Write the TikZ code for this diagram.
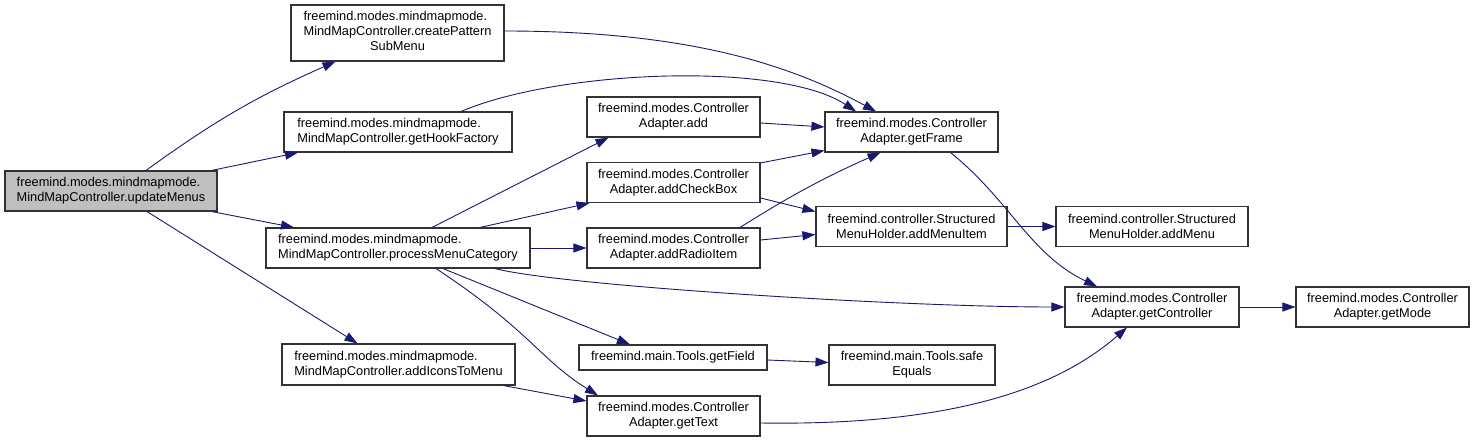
\documentclass[tikz,border=0pt]{standalone}
\usepackage{fontspec}
\setmainfont{Liberation Sans}
\usetikzlibrary{arrows.meta,calc}
\definecolor{edgeblue}{HTML}{191970}
\definecolor{nodegray}{HTML}{BFBFBF}
\definecolor{nodeborder}{HTML}{333333}
\tikzset{
  box/.style={draw=nodeborder, line width=1.1pt, fill=white, rectangle, inner sep=0pt,
    align=center, font=\fontsize{12.8}{15}\selectfont},
  lbox/.style={box, align=left},
  conn/.style={draw=edgeblue, line width=0.9pt, -{Triangle[length=13pt,width=9pt]}},
}
\begin{document}
\begin{tikzpicture}[x=1pt,y=-1pt]
\useasboundingbox (0,0) rectangle (1475,441);
\fill[white] (0,0) rectangle (1475,441);

% column 1
\node[lbox, fill=nodegray, minimum width=212pt, minimum height=40pt] (um) at (111,191)
  {freemind.modes.mindmapmode.\\MindMapController.updateMenus};

% column 2
\node[box, minimum width=213pt, minimum height=56pt] (cp) at (397.5,33)
  {\begin{tabular}{@{}l@{}}freemind.modes.mindmapmode.\\MindMapController.createPattern\\\multicolumn{1}{@{}c@{}}{SubMenu}\end{tabular}};
\node[lbox, minimum width=228pt, minimum height=40pt] (hf) at (398,132)
  {freemind.modes.mindmapmode.\\MindMapController.getHookFactory};
\node[lbox, minimum width=264pt, minimum height=40pt] (pmc) at (398,248)
  {freemind.modes.mindmapmode.\\MindMapController.processMenuCategory};
\node[lbox, minimum width=233pt, minimum height=41pt] (ai) at (398.5,364.5)
  {freemind.modes.mindmapmode.\\MindMapController.addIconsToMenu};

% column 3
\node[box, minimum width=173pt, minimum height=40pt] (add) at (673.5,117)
  {freemind.modes.Controller\\Adapter.add};
\node[box, minimum width=173pt, minimum height=40pt] (acb) at (673.5,182.5)
  {freemind.modes.Controller\\Adapter.addCheckBox};
\node[box, minimum width=173pt, minimum height=40pt] (ari) at (673.5,248)
  {freemind.modes.Controller\\Adapter.addRadioItem};
\node[box, minimum width=188pt, minimum height=25pt] (gf) at (673,357.5)
  {freemind.main.Tools.getField};
\node[box, minimum width=173pt, minimum height=40pt] (gt) at (673.5,416)
  {freemind.modes.Controller\\Adapter.getText};

% column 4
\node[box, minimum width=173pt, minimum height=40pt] (gfr) at (911.5,132)
  {freemind.modes.Controller\\Adapter.getFrame};
\node[box, minimum width=191pt, minimum height=40pt] (ami) at (911.5,226.5)
  {freemind.controller.Structured\\MenuHolder.addMenuItem};
\node[box, minimum width=166pt, minimum height=40pt] (se) at (912,365)
  {freemind.main.Tools.safe\\Equals};

% column 5
\node[box, minimum width=192pt, minimum height=40pt] (am) at (1152,226.5)
  {freemind.controller.Structured\\MenuHolder.addMenu};
\node[box, minimum width=174pt, minimum height=40pt] (gc) at (1152,307)
  {freemind.modes.Controller\\Adapter.getController};

% column 6
\node[box, minimum width=173pt, minimum height=40pt] (gm) at (1382.5,307)
  {freemind.modes.Controller\\Adapter.getMode};

% connectors
\draw[conn] ($(um.north)+(35,0)$) to[bend left=6] ($(cp.south)+(-62,0)$);
\draw[conn] ($(um.north east)+(-6,0)$) -- ($(hf.south)+(-100,0)$);
\draw[conn] ($(um.south east)+(-6,0)$) -- ($(pmc.north)+(-104,0)$);
\draw[conn] ($(um.south)+(36,0)$) -- ($(ai.north)+(-41,0)$);

\draw[conn] ($(cp.east)+(0,-2)$) .. controls +(195,0) and +(-78,-42) .. ($(gfr.north)+(-35.5,0)$);
\draw[conn] ($(hf.north)+(63,0)$) .. controls +(99,-42) and +(-76,-50) .. ($(gfr.north)+(-55.5,0)$);

\draw[conn] ($(pmc.north)+(34,0)$) -- ($(add.south)+(-65,0)$);
\draw[conn] ($(pmc.north)+(82,0)$) -- ($(acb.south west)+(3,0)$);
\draw[conn] (pmc.east) -- (ari.west);
\draw[conn] ($(pmc.south)+(97,0)$) .. controls +(65,17) and +(-165,0) .. (gc.west);
\draw[conn] ($(pmc.south)+(45,0)$) -- ($(gf.north)+(-43,0)$);
\draw[conn] ($(pmc.south)+(38,0)$) .. controls +(94,62) and +(-58,-36) .. ($(gt.north)+(-75.5,0)$);

\draw[conn] ($(add.east)+(0,6)$) -- ($(gfr.west)+(0,-5)$);
\draw[conn] ($(acb.north east)+(0,1)$) -- ($(gfr.south west)+(0,-2)$);
\draw[conn] ($(acb.east)+(0,15.5)$) -- ($(ami.west)+(0,-15)$);
\draw[conn] ($(ari.north)+(66.5,0)$) to[bend left=4] ($(gfr.south)+(-31,0)$);
\draw[conn] ($(ari.east)+(0,-8)$) -- ($(ami.west)+(0,8)$);

\draw[conn] ($(gfr.south)+(39,0)$) .. controls +(59.5,48) and +(-67,-32) .. ($(gc.north)+(-55,0)$);
\draw[conn] (ami.east) -- (am.west);
\draw[conn] (gc.east) -- (gm.west);
\draw[conn] ($(gf.east)+(0,2.5)$) -- ($(se.west)+(0,-2.5)$);
\draw[conn] ($(ai.south)+(105,0)$) -- ($(gt.west)+(0,-15)$);
\draw[conn] ($(gt.east)+(0,7)$) .. controls +(200,3) and +(-67,58) .. ($(gc.south)+(-25,0)$);
\end{tikzpicture}
\end{document}
